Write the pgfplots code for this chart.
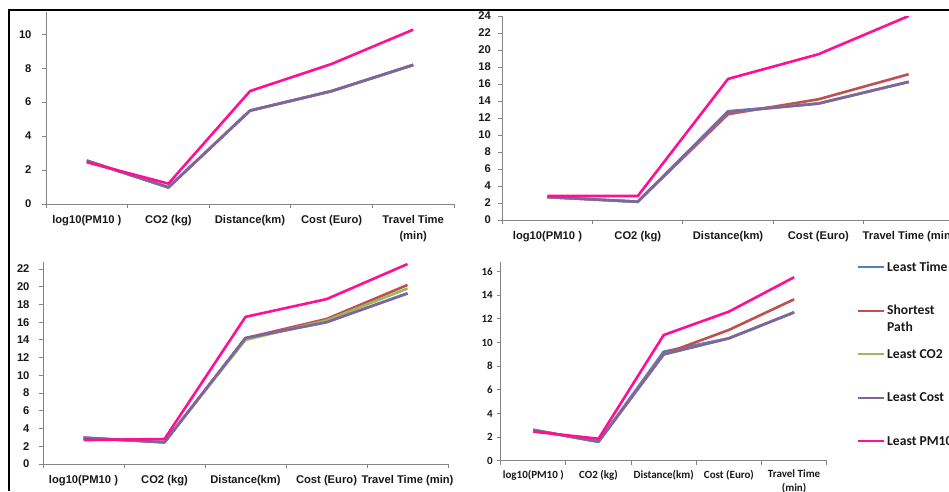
\documentclass[border=0pt]{standalone}
\usepackage{fontspec}
\setmainfont{Liberation Sans}
\newfontfamily\carlito{Carlito}
\usepackage{pgfplots}
\pgfplotsset{compat=1.18}
\definecolor{cTime}{HTML}{4F81BD}
\definecolor{cShort}{HTML}{C0504D}
\definecolor{cCO}{HTML}{9BBB59}
\definecolor{cCost}{HTML}{8064A2}
\definecolor{cPM}{HTML}{FF0F96}
\definecolor{axisgrey}{HTML}{868686}
\pgfplotsset{
  panel/.style={
    scale only axis, xmin=0, xmax=5, ymin=0,
    anchor=south west,
    axis x line*=bottom, axis y line*=left,
    axis line style={-, draw=axisgrey, line width=0.9pt},
    tick align=outside, major tick length=4pt,
    tick style={draw=axisgrey, line width=0.9pt},
    xtick={0,1,2,3,4,5},
    xticklabels={,,,,,},
    extra x ticks={0.5,1.5,2.5,3.5,4.5},
    extra x tick style={major tick length=0pt},
    /pgf/number format/assume math mode=true,
    tick label style={font=\bfseries\fontsize{11.2}{16}\selectfont, text=black!90},
    x tick label style={align=center, yshift=-8pt},
    every axis plot/.append style={line width=2.6pt, line join=round, no markers},
  }
}
\begin{document}
\begin{tikzpicture}
\useasboundingbox (0,0) rectangle (949pt,491pt);
\clip (0,0) rectangle (949pt,491pt);
\draw[line width=2pt] (9.3pt,0pt) -- (9.3pt,481pt) -- (949pt,481pt);

% Panel 1 (top left)
\begin{axis}[panel, at={(46pt,287pt)}, width=408pt, height=192pt, ymax=11.31,
  ytick={0,2,...,10}, y tick label style={xshift=-7pt},
  extra x tick labels={log10(PM10 ),CO2 (kg),Distance(km),Cost (Euro),Travel Time\\(min)}]
\addplot[cTime]  coordinates {(0.5,2.55) (1.5,0.98) (2.5,5.5) (3.5,6.65) (4.5,8.19)};
\addplot[cShort] coordinates {(0.5,2.55) (1.5,0.98) (2.5,5.5) (3.5,6.65) (4.5,8.19)};
\addplot[cCO]    coordinates {(0.5,2.55) (1.5,0.98) (2.5,5.5) (3.5,6.65) (4.5,8.19)};
\addplot[cCost]  coordinates {(0.5,2.55) (1.5,0.98) (2.5,5.5) (3.5,6.65) (4.5,8.19)};
\addplot[cPM]    coordinates {(0.5,2.46) (1.5,1.2) (2.5,6.65) (3.5,8.25) (4.5,10.27)};
\end{axis}

% Panel 2 (top right)
\begin{axis}[panel, at={(502.3pt,271pt)}, width=451.5pt, height=204pt, ymax=24,
  ytick={0,2,...,24}, y tick label style={xshift=-4pt},
  extra x tick labels={log10(PM10 ),CO2 (kg),Distance(km),Cost (Euro),Travel Time (min)}]
\addplot[cTime]  coordinates {(0.5,2.7) (1.5,2.15) (2.5,12.8) (3.5,13.7) (4.5,16.25)};
\addplot[cShort] coordinates {(0.5,2.7) (1.5,2.15) (2.5,12.45) (3.5,14.2) (4.5,17.15)};
\addplot[cCO]    coordinates {(0.5,2.7) (1.5,2.15) (2.5,12.7) (3.5,13.7) (4.5,16.25)};
\addplot[cCost]  coordinates {(0.5,2.7) (1.5,2.15) (2.5,12.7) (3.5,13.7) (4.5,16.25)};
\addplot[cPM]    coordinates {(0.5,2.82) (1.5,2.82) (2.5,16.6) (3.5,19.5) (4.5,24.0)};
\end{axis}

% Panel 3 (bottom left)
\begin{axis}[panel, at={(43pt,27pt)}, width=405pt, height=202pt, ymax=22.79,
  ytick={0,2,...,22}, y tick label style={xshift=-6pt},
  extra x tick labels={log10(PM10 ),CO2 (kg),Distance(km),Cost (Euro),Travel Time (min)}]
\addplot[cTime]  coordinates {(0.5,2.97) (1.5,2.45) (2.5,14.2) (3.5,16.0) (4.5,19.25)};
\addplot[cShort] coordinates {(0.5,2.95) (1.5,2.45) (2.5,14.2) (3.5,16.36) (4.5,20.2)};
\addplot[cCO]    coordinates {(0.5,2.9) (1.5,2.5) (2.5,14.0) (3.5,16.2) (4.5,19.8)};
\addplot[cCost]  coordinates {(0.5,2.97) (1.5,2.45) (2.5,14.2) (3.5,16.0) (4.5,19.25)};
\addplot[cPM]    coordinates {(0.5,2.7) (1.5,2.82) (2.5,16.6) (3.5,18.6) (4.5,22.56)};
\end{axis}

% Panel 4 (bottom right)
\begin{axis}[panel, at={(500.7pt,30.3pt)}, width=326pt, height=198.7pt, ymax=16.82,
  ytick={0,2,...,16}, y tick label style={xshift=-0.5pt},
  tick label style={font=\carlito\bfseries\fontsize{11}{14}\selectfont, text=black!90},
  x tick label style={align=center, yshift=2pt},
  extra x tick labels={log10(PM10 ),CO2 (kg),Distance(km),Cost (Euro),Travel Time\\(min)},
  legend style={draw=none, fill=none, at={(1.093,1.005)}, anchor=north west,
    inner sep=0pt, row sep=8.5pt, column sep=2pt,
    cells={anchor=base west},
    nodes={inner sep=0pt, text height=10pt, text depth=25pt, anchor=base west,
      font=\carlito\bfseries\fontsize{13.6}{17}\selectfont, text=black!90}},
  legend image code/.code={\draw[#1, line width=2pt] (0pt,4pt) -- (26pt,4pt);}]
\addplot[cTime]  coordinates {(0.5,2.6) (1.5,1.61) (2.5,9.23) (3.5,10.36) (4.5,12.56)};
\addplot[cShort] coordinates {(0.5,2.6) (1.5,1.61) (2.5,9.03) (3.5,11.07) (4.5,13.66)};
\addplot[cCO]    coordinates {(0.5,2.6) (1.5,1.61) (2.5,9.0) (3.5,10.36) (4.5,12.56)};
\addplot[cCost]  coordinates {(0.5,2.6) (1.5,1.61) (2.5,9.0) (3.5,10.36) (4.5,12.56)};
\addplot[cPM]    coordinates {(0.5,2.46) (1.5,1.86) (2.5,10.64) (3.5,12.62) (4.5,15.53)};
\legend{Least Time,{\begin{tabular}[t]{@{}l@{}}Shortest\\Path\end{tabular}},Least CO2,Least Cost,Least PM10}
\end{axis}
\end{tikzpicture}
\end{document}
